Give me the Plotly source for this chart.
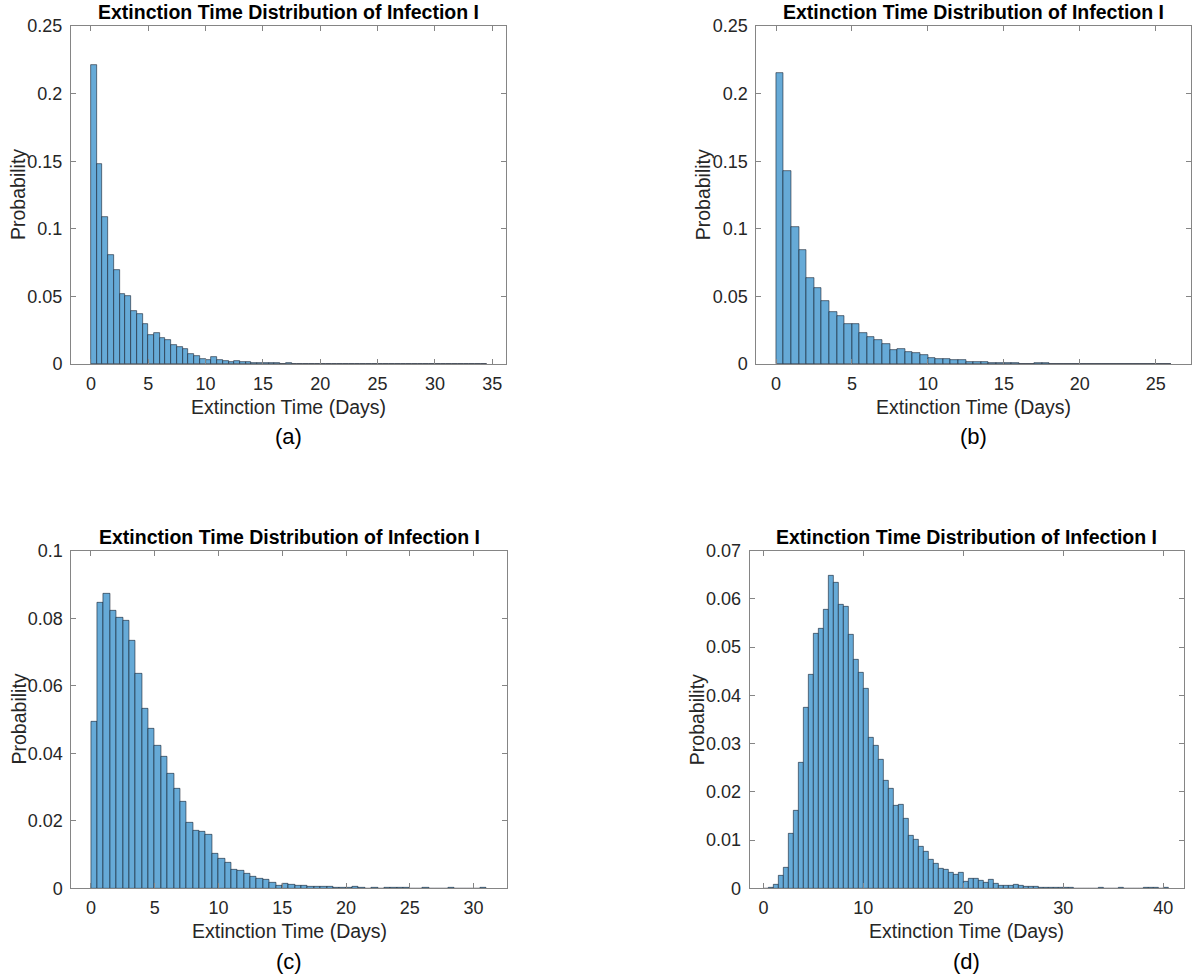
import plotly.graph_objects as go

BIN_WIDTH = 0.5

# Probabilities per 0.5-day bin, bins starting at 0
prob_a = [0.2212, 0.1477, 0.1087, 0.0806, 0.0693, 0.0518, 0.0500, 0.0392, 0.0370, 0.0293,
          0.0214, 0.0229, 0.0190, 0.0175, 0.0140, 0.0123, 0.0108, 0.0074, 0.0057, 0.0037,
          0.0032, 0.0052, 0.0027, 0.0022, 0.0015, 0.0020, 0.0017, 0.0012, 0.0010, 0.0007,
          0.0006, 0.0005, 0.0004, 0.0003, 0.0005, 0.0003, 0.0002, 0.0001, 0.0002, 0.0001,
          0.0001, 0.0001, 0.0000, 0.0001, 0.0000, 0.0001, 0.0000, 0.0000, 0.0001, 0.0000,
          0.0000, 0.0001, 0.0000, 0.0000, 0.0000, 0.0000, 0.0001, 0.0000, 0.0000, 0.0000,
          0.0000, 0.0000, 0.0001, 0.0000, 0.0000, 0.0000, 0.0000, 0.0000, 0.0001]

prob_b = [0.2150, 0.1428, 0.1011, 0.0841, 0.0634, 0.0560, 0.0464, 0.0387, 0.0353, 0.0298,
          0.0298, 0.0227, 0.0202, 0.0180, 0.0148, 0.0101, 0.0108, 0.0091, 0.0079, 0.0064,
          0.0047, 0.0039, 0.0035, 0.0027, 0.0027, 0.0015, 0.0012, 0.0017, 0.0007, 0.0010,
          0.0006, 0.0004, 0.0002, 0.0002, 0.0004, 0.0004, 0.0001, 0.0001, 0.0001, 0.0001,
          0.0001, 0.0000, 0.0001, 0.0001, 0.0000, 0.0000, 0.0000, 0.0000, 0.0000, 0.0000,
          0.0000, 0.0001]

prob_c = [0.0494, 0.0845, 0.0872, 0.0821, 0.0803, 0.0794, 0.0732, 0.0637, 0.0533, 0.0472,
          0.0423, 0.0389, 0.0338, 0.0296, 0.0258, 0.0194, 0.0172, 0.0167, 0.0160, 0.0102,
          0.0088, 0.0077, 0.0056, 0.0051, 0.0044, 0.0034, 0.0027, 0.0026, 0.0016, 0.0007,
          0.0013, 0.0010, 0.0007, 0.0008, 0.0004, 0.0006, 0.0004, 0.0005, 0.0003, 0.0002,
          0.0001, 0.0004, 0.0001, 0.0000, 0.0001, 0.0000, 0.0001, 0.0003, 0.0003, 0.0001,
          0.0000, 0.0000, 0.0001, 0.0000, 0.0000, 0.0000, 0.0001, 0.0000, 0.0000, 0.0000,
          0.0000, 0.0001]

prob_d = [0.0000, 0.0001, 0.0008, 0.0027, 0.0042, 0.0113, 0.0161, 0.0261, 0.0375, 0.0442,
          0.0528, 0.0539, 0.0578, 0.0649, 0.0633, 0.0589, 0.0584, 0.0525, 0.0474, 0.0448,
          0.0413, 0.0313, 0.0296, 0.0267, 0.0223, 0.0207, 0.0172, 0.0174, 0.0145, 0.0110,
          0.0100, 0.0086, 0.0076, 0.0060, 0.0050, 0.0041, 0.0039, 0.0033, 0.0028, 0.0032,
          0.0014, 0.0019, 0.0020, 0.0015, 0.0012, 0.0017, 0.0009, 0.0006, 0.0006, 0.0006,
          0.0008, 0.0006, 0.0003, 0.0003, 0.0003, 0.0002, 0.0001, 0.0002, 0.0002, 0.0001,
          0.0002, 0.0002, 0.0000, 0.0000, 0.0000, 0.0000, 0.0000, 0.0001, 0.0000, 0.0000,
          0.0000, 0.0001, 0.0000, 0.0000, 0.0000, 0.0000, 0.0001, 0.0001, 0.0001, 0.0000,
          0.0001]

title_text = "Extinction Time Distribution of Infection I"
xlabel_text = "Extinction Time (Days)"
ylabel_text = "Probability"
captions = ["(a)", "(b)", "(c)", "(d)"]

x_ticks = [[0, 5, 10, 15, 20, 25, 30, 35], [0, 5, 10, 15, 20, 25],
           [0, 5, 10, 15, 20, 25, 30], [0, 10, 20, 30, 40]]
y_ticks = [[0, 0.05, 0.1, 0.15, 0.2, 0.25], [0, 0.05, 0.1, 0.15, 0.2, 0.25],
           [0, 0.02, 0.04, 0.06, 0.08, 0.1], [0, 0.01, 0.02, 0.03, 0.04, 0.05, 0.06, 0.07]]
y_ticktext = [["0", "0.05", "0.1", "0.15", "0.2", "0.25"], ["0", "0.05", "0.1", "0.15", "0.2", "0.25"],
              ["0", "0.02", "0.04", "0.06", "0.08", "0.1"],
              ["0", "0.01", "0.02", "0.03", "0.04", "0.05", "0.06", "0.07"]]
x_ranges = [[-1.74, 36.2], [-1.3, 27.3], [-1.54, 32.6], [-1.37, 42.1]]
y_ranges = [[0, 0.25], [0, 0.25], [0, 0.1], [0, 0.07]]

W, H = 1193, 978
# pixel boxes of each axes: (left, right, top, bottom)
boxes = [(71, 506, 26, 364), (756.3, 1190.7, 26, 364),
         (71.3, 506.7, 550.7, 888.3), (749.7, 1184.3, 550.7, 888.3)]


def px(xp):
    return xp / W


def py(yp):
    return 1 - yp / H


FILL = "#66AAD7"
EDGE = "rgba(20,30,45,0.85)"
AXC = "#858585"
TXT = "#262626"
FONT = "Liberation Sans, Arial, Helvetica, sans-serif"

fig = go.Figure()
layout = dict(template="none", width=W, height=H, margin=dict(l=0, r=0, t=0, b=0, pad=0),
              plot_bgcolor="white", paper_bgcolor="white", showlegend=False,
              bargap=0, font=dict(family=FONT, color=TXT))
annotations = []

all_probs = [prob_a, prob_b, prob_c, prob_d]
for i, probs in enumerate(all_probs):
    n = i + 1
    xs = [k * BIN_WIDTH + BIN_WIDTH / 2 for k in range(len(probs))]
    fig.add_trace(go.Bar(x=xs, y=probs, width=BIN_WIDTH,
                         marker=dict(color=FILL, line=dict(color=EDGE, width=0.7)),
                         xaxis=f"x{n}", yaxis=f"y{n}", hoverinfo="x+y"))
    l, r, t, b = boxes[i]
    xd = [px(l), min(px(r), 1.0)]
    yd = [py(b), py(t)]
    common = dict(showline=True, linecolor=AXC, linewidth=1, mirror="ticks",
                  ticks="inside", ticklen=5, tickcolor=AXC, tickwidth=1,
                  showgrid=False, zeroline=False, automargin=False,
                  tickfont=dict(family=FONT, size=18, color=TXT))
    layout[f"xaxis{n}"] = dict(domain=xd, range=x_ranges[i], anchor=f"y{n}",
                               tickvals=x_ticks[i], ticklabelstandoff=3, **common)
    layout[f"yaxis{n}"] = dict(domain=yd, range=y_ranges[i], anchor=f"x{n}",
                               tickvals=y_ticks[i], ticktext=y_ticktext[i],
                               ticklabelstandoff=4, **common)
    cx = (l + r) / 2
    # title
    annotations.append(dict(text=f"<b>{title_text}</b>", x=px(cx), y=py(t - 14),
                            xref="paper", yref="paper", showarrow=False,
                            xanchor="center", yanchor="middle",
                            font=dict(family=FONT, size=19.5, color="black")))
    # x label
    annotations.append(dict(text=xlabel_text, x=px(cx), y=py(b + 43),
                            xref="paper", yref="paper", showarrow=False,
                            xanchor="center", yanchor="middle",
                            font=dict(family=FONT, size=19.5, color=TXT)))
    # caption
    annotations.append(dict(text=captions[i], x=px(cx), y=py(b + 73),
                            xref="paper", yref="paper", showarrow=False,
                            xanchor="center", yanchor="middle",
                            font=dict(family=FONT, size=22, color="black")))
    # y label
    ylx = 18 if i % 2 == 0 else l - 53
    annotations.append(dict(text=ylabel_text, x=px(ylx), y=py((t + b) / 2),
                            xref="paper", yref="paper", showarrow=False, textangle=-90,
                            xanchor="center", yanchor="middle",
                            font=dict(family=FONT, size=19.5, color=TXT)))

layout["annotations"] = annotations
fig.update_layout(**layout)
fig.write_html("out.html", config={"displayModeBar": False},
               post_script="document.body.style.margin='0';document.body.style.padding='0';"
                           "document.body.style.overflow='hidden';")
